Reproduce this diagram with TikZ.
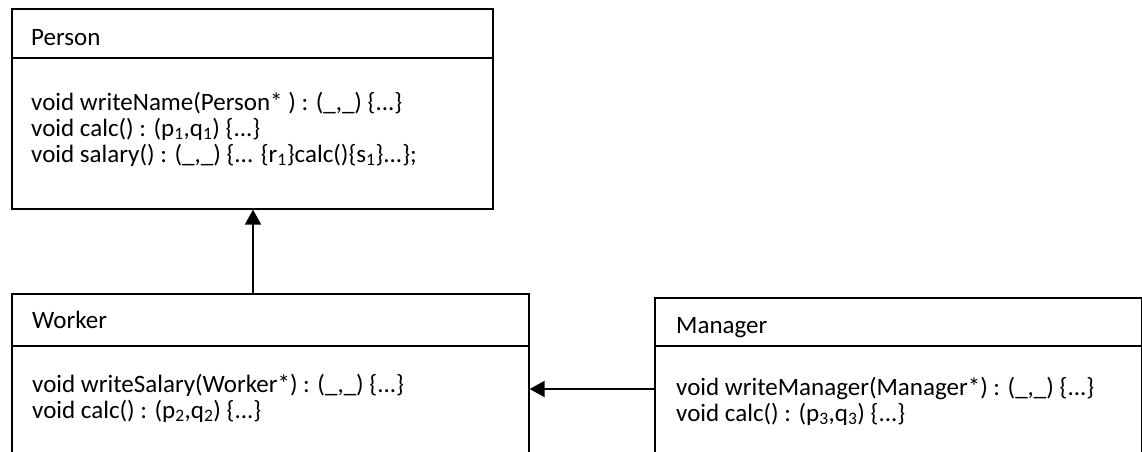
\documentclass[tikz,border=0pt]{standalone}
\usepackage{fontspec}
\setmainfont{Carlito}
\usetikzlibrary{arrows.meta}
\tikzset{
  umlpart/.style={draw=black, line width=1.6pt, rectangle, inner sep=0pt, anchor=north west},
  umltext/.style={anchor=base west, inner sep=0pt, font=\fontsize{25}{26}\selectfont},
  inherit/.style={line width=1.6pt, -{Triangle[length=15pt,width=16pt]}}
}
\begin{document}
\begin{tikzpicture}[x=1pt,y=-1pt]
\clip (0,0) rectangle (1142,451);
\fill[white] (0,0) rectangle (1142,451);
% Person
\node[umlpart, minimum width=481pt, minimum height=49pt] (personhead) at (11,8) {};
\node[umlpart, minimum width=481pt, minimum height=151pt] (personbody) at (11,57) {};
\node[umltext] (persont) at (31,45) {Person};
\node[umltext] (personm1) at (31,110) {void writeName(Person* ) : (\_,\_) \{...\}};
\node[umltext] (personm2) at (31,136) {void calc() : (p\textsubscript{1},q\textsubscript{1}) \{...\}};
\node[umltext] (personm3) at (31,162) {void salary() : (\_,\_) \{... \{r\textsubscript{1}\}calc()\{s\textsubscript{1}\}...\};};
% Worker
\node[umlpart, minimum width=517pt, minimum height=52pt] (workerhead) at (11,293) {};
\node[umlpart, minimum width=517pt, minimum height=130pt] (workerbody) at (11,345) {};
\node[umltext] (workert) at (32,328) {Worker};
\node[umltext] (workerm1) at (32,392) {void writeSalary(Worker*) : (\_,\_) \{...\}};
\node[umltext] (workerm2) at (32,418) {void calc() : (p\textsubscript{2},q\textsubscript{2}) \{...\}};
% Manager
\node[umlpart, minimum width=487pt, minimum height=48pt] (managerhead) at (654,297) {};
\node[umlpart, minimum width=487pt, minimum height=130pt] (managerbody) at (654,345) {};
\node[umltext] (managert) at (676,333) {Manager};
\node[umltext] (managerm1) at (676,395) {void writeManager(Manager*) : (\_,\_) \{...\}};
\node[umltext] (managerm2) at (676,421) {void calc() : (p\textsubscript{3},q\textsubscript{3}) \{...\}};
% connectors
\coordinate (vx) at (253,0);
\coordinate (hy) at (0,389);
\draw[inherit] (workerhead.north -| vx) -- (personbody.south -| vx);
\draw[inherit] (managerbody.west |- hy) -- (workerbody.east |- hy);
\end{tikzpicture}
\end{document}
